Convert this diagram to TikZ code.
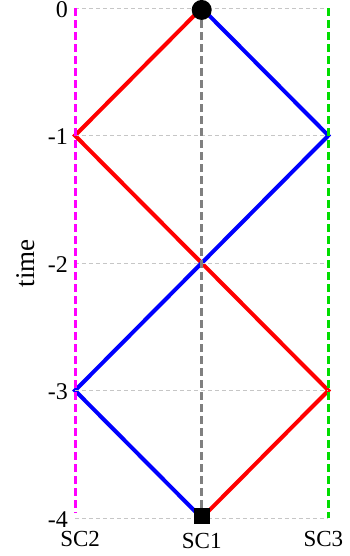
\documentclass[tikz,border=0pt]{standalone}
\usepackage{fontspec}
\setmainfont{Liberation Serif}
\definecolor{sitemagenta}{RGB}{255,0,255}
\definecolor{sitegreen}{RGB}{0,220,0}
\definecolor{msgred}{RGB}{255,0,0}
\definecolor{msgblue}{RGB}{0,0,255}
\begin{document}
\begin{tikzpicture}[x=126.7pt,y=127.5pt,
    msg/.style={line width=4pt},
    site/.style={line width=3pt,dash pattern=on 8pt off 4pt},
    grid line/.style={gray!45,line width=1pt,dash pattern=on 4pt off 3pt},
    tick/.style={anchor=east,inner sep=0pt,font=\fontsize{24}{28}\selectfont},
    lbl/.style={anchor=base,inner sep=0pt,font=\fontsize{23}{27}\selectfont}]
    \useasboundingbox (-1.592,0.063) rectangle (1.163,-4.298);

    % Eventos
    \coordinate (e0) at (0,0);
    \coordinate (e1l) at (-1,-1);
    \coordinate (e1r) at (1,-1);
    \coordinate (e2) at (0,-2);
    \coordinate (e3l) at (-1,-3);
    \coordinate (e3r) at (1,-3);
    \coordinate (e4) at (0,-4);

    % Mensajes rojo y azul
    \draw[msg,msgred] (e0) -- (e1l) -- (e2) -- (e3r) -- (e4);
    \draw[msg,msgblue] (e0) -- (e1r) -- (e2) -- (e3l) -- (e4);

    % Rejilla y etiquetas de tiempo
    \foreach \t in {0,...,4} {
        \draw[grid line] (-1,-\t) -- (1,-\t);
        \node[tick] (t\t) at ([xshift=-7pt,yshift=-1.5pt]-1,-\t) {\ifnum\t=0 0\else -\t\fi};
    }

    % Lineas de los sitios
    \draw[site,sitemagenta] (-1,0) -- (-1,-3.96);
    \draw[site,gray] (e0) -- (e4);
    \draw[site,sitegreen] (1,0) -- (1,-4);

    % Inicio y fin
    \node[circle,fill=black,minimum size=20pt,inner sep=0pt] (start) at (0,-0.015) {};
    \node[rectangle,fill=black,minimum size=16pt,inner sep=0pt] (stop) at (0,-3.985) {};

    \node[lbl] (sc2) at (-0.96,-4.22) {SC2};
    \node[lbl] (sc1) at (0,-4.242) {SC1};
    \node[lbl] (sc3) at (0.96,-4.22) {SC3};
    \node[rotate=90,inner sep=0pt,font=\fontsize{27}{30}\selectfont] (time) at (-1.387,-2) {time};
\end{tikzpicture}
\end{document}
